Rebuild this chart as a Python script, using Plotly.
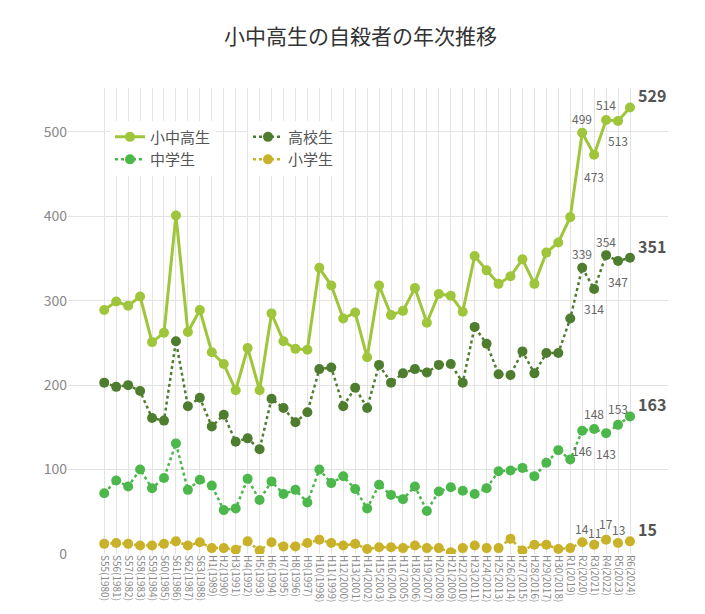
import plotly.graph_objects as go

eras = ["S55","S56","S57","S58","S59","S60","S61","S62","S63","H1","H2","H3","H4","H5","H6","H7","H8","H9","H10","H11","H12","H13","H14","H15","H16","H17","H18","H19","H20","H21","H22","H23","H24","H25","H26","H27","H28","H29","H30","R1","R2","R3","R4","R5","R6"]
years = list(range(1980, 2025))
cats = [f"{e}({y})" for e, y in zip(eras, years)]

total = [289,299,294,305,251,262,401,263,289,239,225,194,244,194,285,252,243,242,339,318,279,286,233,318,283,288,315,274,308,306,287,353,336,320,329,349,320,357,369,399,499,473,514,513,529]
high = [203,198,200,193,161,158,252,175,185,151,165,133,137,124,184,173,156,168,219,221,175,197,173,224,203,214,219,215,224,225,203,269,249,213,212,240,214,238,238,279,339,314,354,347,351]
junior = [72,87,80,100,78,90,131,76,88,81,52,54,89,64,86,71,76,61,100,84,92,77,54,82,70,65,80,51,74,79,75,71,78,98,99,102,92,108,123,112,146,148,143,153,163]
elem = [12,13,12,10,10,12,15,10,14,7,7,5,15,4,14,9,9,13,17,13,10,12,6,8,8,7,10,7,7,2,7,10,7,7,18,4,11,11,6,7,14,11,17,13,15]

C_T, C_H, C_J, C_E = "#9fc53a", "#4f7d2f", "#4cb84c", "#c9b22a"
fig = go.Figure()
fig.add_trace(go.Scatter(x=cats, y=total, name="小中高生", mode="lines+markers", legend="legend",
    line=dict(color=C_T, width=3), marker=dict(size=10, color=C_T)))
fig.add_trace(go.Scatter(x=cats, y=high, name="高校生", mode="lines+markers", legend="legend2",
    line=dict(color=C_H, width=2.5, dash="dot"), marker=dict(size=10, color=C_H)))
fig.add_trace(go.Scatter(x=cats, y=junior, name="中学生", mode="lines+markers", legend="legend",
    line=dict(color=C_J, width=2.5, dash="dot"), marker=dict(size=10, color=C_J)))
fig.add_trace(go.Scatter(x=cats, y=elem, name="小学生", mode="lines+markers", legend="legend2",
    line=dict(color=C_E, width=2.5, dash="dot"), marker=dict(size=10, color=C_E)))

ann = []
for ser in (total, high, junior, elem):
    ann.append(dict(x=cats[-1], y=ser[-1], text="<b>%d</b>" % ser[-1], showarrow=False, xanchor="left",
                    xshift=6, yshift=12, font=dict(size=16, color="#555", family="Noto Sans CJK JP")))
small = [(total, 40, 14), (total, 41, -22), (total, 42, 16), (total, 43, -20),
         (high, 40, 14), (high, 41, -20), (high, 42, 14), (high, 43, -20),
         (junior, 40, -20), (junior, 41, 16), (junior, 42, -20), (junior, 43, 16),
         (elem, 40, 14), (elem, 41, 12), (elem, 42, 16), (elem, 43, 14)]
for ser, i, ys in small:
    ann.append(dict(x=cats[i], y=ser[i], text=str(ser[i]), showarrow=False, yshift=ys,
                    font=dict(size=12, color="#666")))

leg = dict(yanchor="top", bgcolor="white", font=dict(size=15, color="#555"), tracegroupgap=2)
fig.update_layout(
    width=705, height=614, paper_bgcolor="white", plot_bgcolor="white",
    title=dict(text="小中高生の自殺者の年次推移", x=0.5, y=0.965, font=dict(size=21, color="#333")),
    font=dict(family="Noto Sans CJK JP", color="#777"),
    margin=dict(l=60, r=45, t=80, b=68, autoexpand=False),
    legend=dict(x=0.07, y=0.93, xanchor="left", **leg),
    legend2=dict(x=0.30, y=0.93, xanchor="left", **leg),
    annotations=ann, showlegend=True,
)
fig.update_xaxes(showgrid=True, gridcolor="#e3e3e3", tickangle=90, tickfont=dict(size=10, color="#888"),
                 ticks="", showline=False, tickmode="array", tickvals=cats, ticktext=cats, automargin=False)
fig.update_yaxes(range=[0, 552], dtick=100, showgrid=True, gridcolor="#e3e3e3", zeroline=False,
                 tickfont=dict(size=14, color="#888"), ticks="", automargin=False)
fig.write_html("out.html")
